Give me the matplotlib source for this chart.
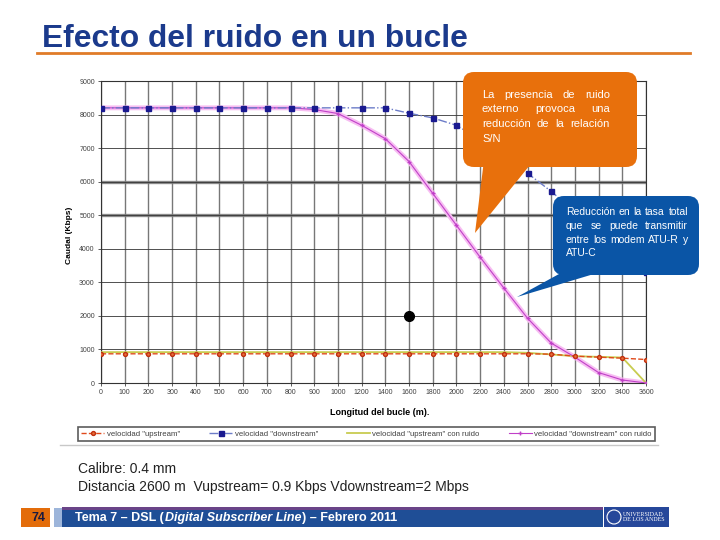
import numpy as np
import matplotlib
matplotlib.use("Agg")
import matplotlib.pyplot as plt
from matplotlib.patches import FancyBboxPatch, Polygon, Rectangle, Circle

plt.rcParams['font.family'] = ['Liberation Sans', 'DejaVu Sans']

# ── Data ─────────────────────────────────────────────────────
distances = [0, 100, 200, 300, 400, 500, 600, 700, 800, 900, 1000,
             1200, 1400, 1600, 1800, 2000, 2200, 2400, 2600, 2800,
             3000, 3200, 3400, 3600]

vel_up = [870, 870, 870, 870, 870, 870, 870, 870, 870, 870, 870,
          870, 870, 870, 870, 870, 870, 870, 870, 860,
          800, 770, 740, 700]

vel_down = [8200, 8200, 8200, 8200, 8200, 8200, 8200, 8200, 8200, 8200, 8200,
            8200, 8200, 8040, 7900, 7680, 7250, 6780, 6250, 5710,
            5100, 4500, 3900, 3300]

vel_up_ruido = [920, 920, 920, 920, 920, 920, 920, 920, 920, 920, 920,
                920, 920, 920, 920, 920, 920, 920, 900, 850,
                800, 780, 760, 0]

vel_down_ruido = [8200, 8200, 8200, 8200, 8200, 8200, 8200, 8200, 8200, 8150, 8030,
                  7680, 7280, 6600, 5650, 4700, 3750, 2830, 1930, 1190,
                  770, 310, 90, 0]

punto_dist = 1600
punto_caudal = 2000

y_ticks = [0, 1000, 2000, 3000, 4000, 5000, 6000, 7000, 8000, 9000]
thick_rows = [5000, 6000]

labels = ['velocidad "upstream"', 'velocidad "downstream"',
          'velocidad "upstream" con ruido', 'velocidad "downstream" con ruido']

titulo = "Efecto del ruido en un bucle"
nota_1 = "Calibre: 0.4 mm"
nota_2 = "Distancia 2600 m  Vupstream= 0.9 Kbps Vdownstream=2 Mbps"
globo_naranja = ["La presencia de ruido", "externo provoca una",
                 "reducción de la relación", "S/N"]
globo_azul = ["Reducción en la tasa total", "que se puede transmitir",
              "entre los modem ATU-R y", "ATU-C"]
pie = [("Tema 7 – DSL (", "normal"), ("Digital Subscriber Line", "italic"),
       (") – Febrero 2011", "normal")]
pagina = "74"

W, H = 720, 540

fig = plt.figure(figsize=(W / 100, H / 100), dpi=100)
fig.patch.set_facecolor("white")

# ── Chart ────────────────────────────────────────────────────
x0, x1, y0, y1 = 101, 646, 81, 383
ax = fig.add_axes([x0 / W, 1 - y1 / H, (x1 - x0) / W, (y1 - y0) / H])
x = np.arange(len(distances))

ax.plot(x, vel_down_ruido, color="#F7BDF2", lw=3.5, zorder=2)
ax.plot(x, vel_up, ls="--", color="#E04A1C", lw=1.0, marker="o", ms=2.8,
        mfc="#E8703A", mec="#C03010", label=labels[0], zorder=5)
ax.plot(x, vel_down, ls="-.", color="#6C7CC8", lw=1.0, marker="s", ms=3.6,
        mfc="#1A1A90", mec="#1A1A90", label=labels[1], zorder=5)
ax.plot(x, vel_up_ruido, color="#C8CC50", lw=1.3, label=labels[2], zorder=4)
ax.plot(x, vel_down_ruido, color="#C040C8", lw=0.8, marker="+", ms=3,
        label=labels[3], zorder=4)
ax.plot(distances.index(punto_dist), punto_caudal, "o", color="black", ms=7, zorder=6)

ax.set_xlim(0, len(distances) - 1)
ax.set_ylim(y_ticks[0], y_ticks[-1])
ax.set_xticks(x)
ax.set_xticklabels([str(d) for d in distances])
ax.set_yticks(y_ticks)
ax.tick_params(labelsize=5, colors="#404040", length=2.5, width=0.6, pad=2)

ax.grid(axis="x", color="#777777", lw=1.0, zorder=0)
ax.grid(axis="y", color="#333333", lw=0.6, zorder=0)
for v in thick_rows:
    ax.axhline(v, color="#8A8A8A", lw=2.4, zorder=1)
for s in ax.spines.values():
    s.set_color("#333333")
    s.set_linewidth(0.8)

ax.set_ylabel("Caudal (Kbps)", fontsize=6, fontweight="bold")
ax.yaxis.set_label_coords((73 - x0) / (x1 - x0), 0.49)
ax.set_xlabel("Longitud del bucle (m).", fontsize=6.5, fontweight="bold")
ax.xaxis.set_label_coords((380 - x0) / (x1 - x0), -(408 - y1) / (y1 - y0))

leg = ax.legend(loc="lower left", bbox_to_anchor=(78 / W, 1 - 441 / H, 577 / W, 17 / H),
                bbox_transform=fig.transFigure, ncol=4, fontsize=5.6, mode="expand",
                frameon=True, fancybox=False, borderpad=0.4, borderaxespad=0,
                handlelength=3.0, handletextpad=0.3, columnspacing=0.4)
leg.get_frame().set_edgecolor("#333333")
leg.get_frame().set_linewidth(1.2)
for t in leg.get_texts():
    t.set_color("#404040")

# ── Slide decorations (pixel coordinates) ────────────────────
ov = fig.add_axes([0, 0, 1, 1], zorder=10)
ov.set_xlim(0, W)
ov.set_ylim(H, 0)
ov.axis("off")
ov.patch.set_visible(False)
renderer = fig.canvas.get_renderer()


def put_line(xa, xb, y, line, justify, **kw):
    words = line.split()
    if not justify or len(words) == 1:
        ov.text(xa, y, line, ha="left", va="center", **kw)
        return
    arts = [ov.text(0, y, w, ha="left", va="center", **kw) for w in words]
    widths = [a.get_window_extent(renderer).width for a in arts]
    gap = (xb - xa - sum(widths)) / (len(words) - 1)
    pos = xa
    for a, w in zip(arts, widths):
        a.set_x(pos)
        pos += w + gap


ov.text(42, 47, titulo, fontsize=22.9, fontweight="bold", color="#1B3A8C",
        ha="left", va="baseline")
ov.plot([37, 690], [53, 53], color="#E07B28", lw=2)

ov.plot([60, 658], [445, 445], color="#C8C8C8", lw=1)

# orange callout
ov.add_patch(FancyBboxPatch((463, 72), 174, 95,
                            boxstyle="round,pad=0,rounding_size=11",
                            fc="#E8700C", ec="none"))
ov.add_patch(Polygon([(484, 160), (534, 160), (475, 233)], fc="#E8700C", ec="none"))
for i, (line, yy) in enumerate(zip(globo_naranja, [95, 109.5, 124, 138.5])):
    put_line(482, 610, yy, line, i < len(globo_naranja) - 1,
             fontsize=8, color="white")

# blue callout
ov.add_patch(FancyBboxPatch((553, 196), 146, 79,
                            boxstyle="round,pad=0,rounding_size=11",
                            fc="#0A55A6", ec="none"))
ov.add_patch(Polygon([(570, 268), (614, 268), (517, 297)], fc="#0A55A6", ec="none"))
for i, (line, yy) in enumerate(zip(globo_azul, [212, 226, 240, 253.5])):
    put_line(566, 688, yy, line, i < len(globo_azul) - 1,
             fontsize=7.5, color="white")

# notes
ov.text(78, 469, nota_1, fontsize=10, color="#222222", ha="left", va="center")
ov.text(78, 487, nota_2, fontsize=10, color="#222222", ha="left", va="center")

# footer
ov.add_patch(Rectangle((21, 508), 29, 19, fc="#E36C0A", ec="none"))
ov.text(46, 518, pagina, fontsize=9, fontweight="bold", color="#1A1A40",
        ha="right", va="center")
ov.add_patch(Rectangle((54, 508), 8, 19, fc="#9DB5DA", ec="none"))
ov.add_patch(Rectangle((62, 508), 541, 19, fc="#1F4E96", ec="none"))
ov.add_patch(Rectangle((62, 507), 541, 2.5, fc="#6A4488", ec="none"))

pos = 75
for txt, style in pie:
    t = ov.text(pos, 518, txt, fontsize=9, fontweight="bold", fontstyle=style,
                color="white", ha="left", va="center")
    pos += t.get_window_extent(renderer).width + 1

ov.add_patch(Rectangle((604, 507), 65, 20, fc="#26479A", ec="none"))
ov.add_patch(Circle((614, 517), 7, fc="none", ec="white", lw=0.8))
ov.text(623, 517, "UNIVERSIDAD\nDE LOS ANDES", fontsize=4.3, color="white",
        family=["Liberation Serif"], ha="left", va="center", linespacing=1.1)

fig.savefig("out.png", dpi=100, facecolor="white")
